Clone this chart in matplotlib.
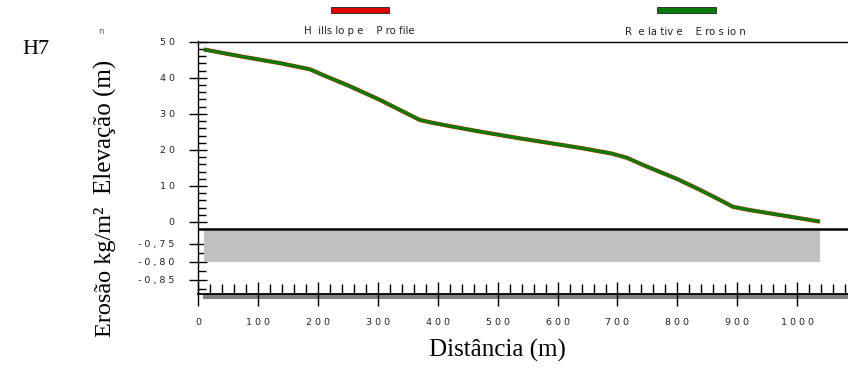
import matplotlib.pyplot as plt
from matplotlib.patches import Rectangle

# hillslope profile (distance m, elevation m)
dist = [9, 70, 136, 186, 208, 250, 303, 340, 370, 392, 430, 470, 530, 587, 640, 690, 716, 743, 800, 838, 870, 893, 921, 980, 1038]
elev = [47.9, 46.0, 44.1, 42.4, 40.8, 37.9, 33.9, 30.8, 28.3, 27.5, 26.3, 25.1, 23.4, 21.9, 20.5, 19.0, 17.8, 15.8, 11.9, 8.9, 6.2, 4.2, 3.3, 1.7, 0.1]

# relative erosion (kg/m2) along the slope
eros_x = [10, 1038]
eros_val = -0.80

elev_ticks = [0, 10, 20, 30, 40, 50]
eros_ticks = [-0.75, -0.80, -0.85]
dist_ticks = [0, 100, 200, 300, 400, 500, 600, 700, 800, 900, 1000]


def spaced(s):
    return ' '.join(s)


def e2y(e):
    # erosion values share the elevation axis below zero
    return (e + 0.69) * 100


W, H = 848, 369
fig = plt.figure(figsize=(W / 100, H / 100), dpi=100)
ax = fig.add_axes([198.4 / W, 1 - 294 / H, (W - 198.4) / W, (294 - 41.5) / H])
ax.set_xlim(0, 1085)
ax.set_ylim(-20, 50.1)

# profile line: red underneath, green on top
ax.plot(dist, elev, color='#c83000', lw=3.0, solid_capstyle='butt', solid_joinstyle='round', zorder=3)
ax.plot(dist, elev, color='#0a7a0a', lw=2.3, solid_capstyle='butt', solid_joinstyle='round', zorder=4)

# erosion bar and baseline
ax.add_patch(Rectangle((eros_x[0], e2y(eros_val)), eros_x[1] - eros_x[0],
                       -2.5 - e2y(eros_val), facecolor='#c0c0c0', edgecolor='none', zorder=2))
ax.axhline(-2.0, color='black', lw=1.8, zorder=3)

# grey band under x axis
ax.add_patch(Rectangle((8, -21.4), 1100, 1.4, facecolor='#808080', edgecolor='none',
                       clip_on=False, zorder=1))

ax.spines['right'].set_visible(False)
for s in ['top', 'left', 'bottom']:
    ax.spines[s].set_color('black')
    ax.spines[s].set_linewidth(1.0)
ax.spines['bottom'].set_linewidth(1.3)

tick_font = dict(fontsize=6.8, color='#222222')

ax.set_xticks(dist_ticks)
ax.set_xticklabels([spaced(str(d)) for d in dist_ticks], **tick_font)
ax.set_xticks(range(0, 1085, 20), minor=True)
ax.tick_params(axis='x', which='major', direction='inout', length=17, width=1, pad=9)
ax.tick_params(axis='x', which='minor', direction='in', length=7, width=1)

yt = [e2y(e) for e in eros_ticks] + elev_ticks
yl = [spaced(('%.2f' % e).replace('.', ',')) for e in eros_ticks] + [spaced(str(v)) for v in elev_ticks]
ax.set_yticks(yt)
ax.set_yticklabels(yl, **tick_font)
minor_y = [v for v in range(2, 50, 2) if v % 10 != 0] + [e2y(-0.775), e2y(-0.825), e2y(-0.875)]
ax.set_yticks(minor_y, minor=True)
ax.tick_params(axis='y', which='major', direction='inout', length=13, width=1, pad=10.5)
ax.tick_params(axis='y', which='minor', direction='in', length=6, width=1)


def px(x, y):
    return x / W, 1 - y / H


serif = 'Liberation Serif'
fig.text(*px(36, 49), 'H7', fontsize=16, family=serif, ha='center', va='center')
fig.text(*px(105, 127), 'Elevação (m)', fontsize=18, family=serif, rotation=90,
         ha='center', va='center')
fig.text(*px(105, 272), 'Erosão kg/m²', fontsize=17.5, family=serif, rotation=90,
         ha='center', va='center')
fig.text(*px(497, 350), 'Distância (m)', fontsize=18, family=serif, ha='center', va='center')
fig.text(*px(101, 31), 'n', fontsize=6, color='#555555', ha='center', va='center')

# legend
fig.patches.append(Rectangle(px(331, 12.5), 58 / W, 5.5 / H, transform=fig.transFigure,
                             facecolor='#e00000', edgecolor='#333333', lw=0.7))
fig.patches.append(Rectangle(px(657, 12.5), 59 / W, 5.5 / H, transform=fig.transFigure,
                             facecolor='#0a7a0a', edgecolor='#333333', lw=0.7))
fig.text(*px(359, 31), 'H  ills lo p e    P ro file', fontsize=7.3, color='#222222',
         ha='center', va='center')
fig.text(*px(685, 32), 'R  e la tiv e    E ro s io n', fontsize=7.3, color='#222222',
         ha='center', va='center')

fig.savefig('out.png', dpi=100)
